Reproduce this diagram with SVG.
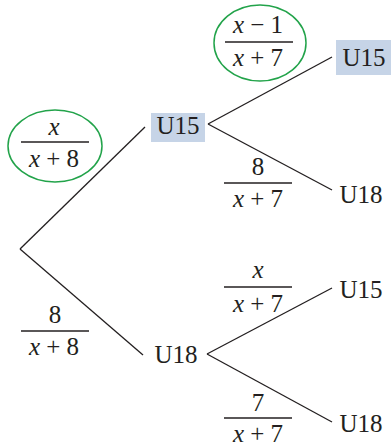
<svg xmlns="http://www.w3.org/2000/svg" width="391" height="446" viewBox="0 0 391 446">
<style>
text{font-family:'Liberation Serif';font-size:25px;fill:#231f20}
.f{text-anchor:middle}
.i{font-style:italic}
.bar{stroke:#231f20;stroke-width:1.4}
.edge{stroke:#231f20;stroke-width:1.3;fill:none}
.box{fill:#c6d4e7}
.ring{fill:none;stroke:#22a34a;stroke-width:1.5}
</style>
<g id="connectors">
<line class="edge" x1="20" y1="249" x2="145" y2="127"/>
<line class="edge" x1="20" y1="249" x2="143" y2="355"/>
<line class="edge" x1="208" y1="124" x2="332" y2="57"/>
<line class="edge" x1="208" y1="124" x2="332" y2="190"/>
<line class="edge" x1="207" y1="354" x2="332" y2="288"/>
<line class="edge" x1="207" y1="354" x2="332" y2="422"/>
</g>
<g id="p1">
<ellipse class="ring" cx="55" cy="146" rx="47" ry="36"/>
<text class="f i" x="54" y="135">x</text>
<line class="bar" x1="21" y1="142" x2="89" y2="142"/>
<text class="f" x="54" y="167"><tspan class="i">x</tspan> + 8</text>
</g>
<g id="p2">
<text class="f" x="55" y="323">8</text>
<line class="bar" x1="21" y1="331" x2="89" y2="331"/>
<text class="f" x="54" y="355"><tspan class="i">x</tspan> + 8</text>
</g>
<g id="n_u15a">
<rect class="box" x="151" y="113" width="54" height="29"/>
<text class="f" x="178" y="134">U15</text>
</g>
<g id="n_u18a">
<text class="f" x="176" y="363">U18</text>
</g>
<g id="p3">
<ellipse class="ring" cx="260" cy="43" rx="46" ry="38"/>
<text class="f" x="258" y="33"><tspan class="i">x</tspan> − 1</text>
<line class="bar" x1="225" y1="42" x2="293" y2="42"/>
<text class="f" x="258" y="66"><tspan class="i">x</tspan> + 7</text>
</g>
<g id="p4">
<text class="f" x="258" y="175">8</text>
<line class="bar" x1="224" y1="183" x2="292" y2="183"/>
<text class="f" x="258" y="207"><tspan class="i">x</tspan> + 7</text>
</g>
<g id="p5">
<text class="f i" x="258" y="278">x</text>
<line class="bar" x1="224" y1="287" x2="292" y2="287"/>
<text class="f" x="258" y="312"><tspan class="i">x</tspan> + 7</text>
</g>
<g id="p6">
<text class="f" x="258" y="411">7</text>
<line class="bar" x1="224" y1="418" x2="292" y2="418"/>
<text class="f" x="258" y="442"><tspan class="i">x</tspan> + 7</text>
</g>
<g id="n_u15b">
<rect class="box" x="336" y="40" width="55" height="35"/>
<text class="f" x="364" y="66">U15</text>
</g>
<g id="n_u18b">
<text class="f" x="361" y="203">U18</text>
</g>
<g id="n_u15c">
<text class="f" x="361" y="298">U15</text>
</g>
<g id="n_u18c">
<text class="f" x="361" y="432">U18</text>
</g>
</svg>
